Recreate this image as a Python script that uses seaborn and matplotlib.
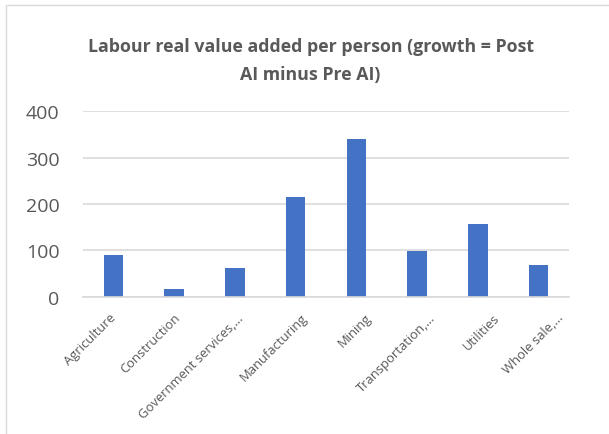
import matplotlib
matplotlib.use("Agg")
import matplotlib.pyplot as plt
import matplotlib.transforms as mtransforms
import seaborn as sns
import pandas as pd
from matplotlib.patches import Rectangle

categories = ["Agriculture", "Construction", "Government services,…", "Manufacturing",
              "Mining", "Transportation,…", "Utilities", "Whole sale,…"]
values = [89, 16.5, 62, 216, 339.5, 98, 157, 68]
yticks = [0, 100, 200, 300, 400]
title = "Labour real value added per person (growth = Post\nAI minus Pre AI)"

sns.set_theme(style="white")
plt.rcParams['font.family'] = ['Open Sans', 'DejaVu Sans']

df = pd.DataFrame({"cat": categories, "val": values})

fig = plt.figure(figsize=(6.09, 4.35), dpi=100)
ax = fig.add_axes([83/609, 1-297.7/435, (569-83)/609, (297.7-112.3)/435])

sns.barplot(data=df, x="cat", y="val", color="#4472C4", width=0.32, ax=ax,
            saturation=1, edgecolor="none")

ax.set_ylim(0, 400)
ax.set_yticks(yticks)
ax.set_yticklabels([str(t) for t in yticks], fontsize=14, color="#595959")
ax.set_xlim(-0.5, len(categories)-0.5)
ax.set_xlabel("")
ax.set_ylabel("")
ax.grid(axis="y", color="#d9d9d9", linewidth=1.2)
ax.set_axisbelow(True)
for s in ["top", "right", "left"]:
    ax.spines[s].set_visible(False)
ax.spines["bottom"].set_color("#d9d9d9")
ax.spines["bottom"].set_linewidth(1.2)
ax.set_xticks(range(len(categories)))
ax.set_xticklabels([""] * len(categories))
ax.tick_params(axis="y", length=0, pad=17)
ax.tick_params(axis="x", length=0)

# category labels, rotated like Excel's (label slots spread slightly wider than bars)
base = mtransforms.blended_transform_factory(ax.transData, ax.transAxes)
for i, cat in enumerate(categories):
    off = mtransforms.ScaledTranslation((-4 + 3.2 * i) / 100, -14 / 100, fig.dpi_scale_trans)
    ax.text(i, 0, cat, transform=base + off, rotation=45, ha="right", va="top",
            rotation_mode="anchor", fontsize=9.4, color="#595959", clip_on=False)

fig.text(0.51, 1-61/435, title, ha="center", va="center", fontsize=12.8,
         fontweight="bold", color="#595959", linespacing=1.75)

fig.patches.append(Rectangle((6/609, -0.1), 1.1, 1-6/435+0.1, transform=fig.transFigure,
                             fill=False, edgecolor="#d9d9d9", linewidth=1))

fig.savefig("out.png", dpi=100)
